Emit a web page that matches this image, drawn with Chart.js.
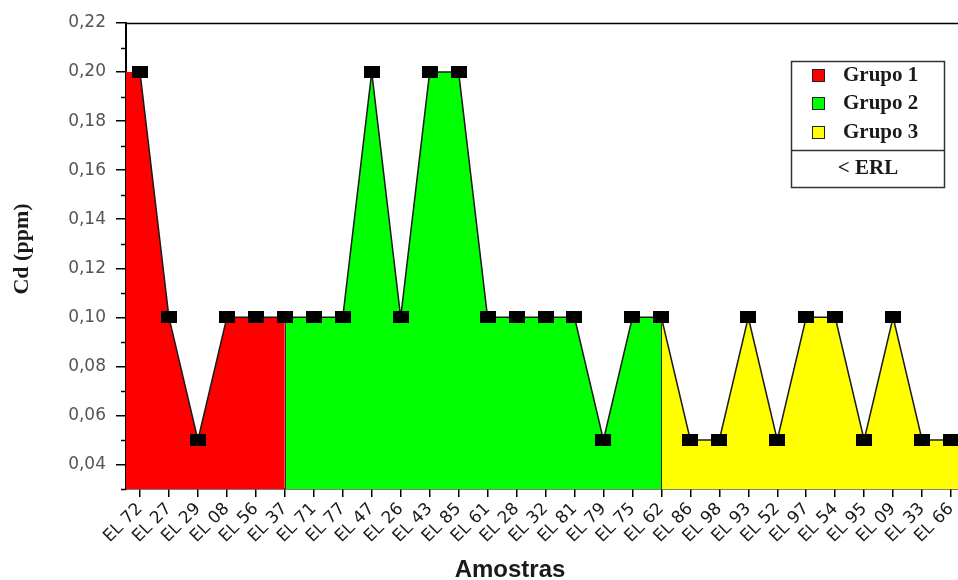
<!DOCTYPE html>
<html>
<head>
<meta charset="utf-8">
<script src="https://cdn.jsdelivr.net/npm/chart.js@4.4.1/dist/chart.umd.min.js"></script>
<style>
  html, body { margin: 0; padding: 0; background: #ffffff; overflow: hidden; }
  #wrap { position: relative; width: 958px; height: 580px; }
</style>
</head>
<body>
<div id="wrap"><canvas id="c" width="958" height="580"></canvas></div>
<script>
// ---- data ----
const samples = ['EL 72','EL 27','EL 29','EL 08','EL 56','EL 37','EL 71','EL 77','EL 47','EL 26',
                 'EL 43','EL 85','EL 61','EL 28','EL 32','EL 81','EL 79','EL 75','EL 62','EL 86',
                 'EL 98','EL 93','EL 52','EL 97','EL 54','EL 95','EL 09','EL 33','EL 66'];
const cdValues = [0.20,0.10,0.05,0.10,0.10,0.10,0.10,0.10,0.20,0.10,
                  0.20,0.20,0.10,0.10,0.10,0.10,0.05,0.10,0.10,0.05,
                  0.05,0.10,0.05,0.10,0.10,0.05,0.10,0.05,0.05];
const groupNames = ['Grupo 1','Grupo 2','Grupo 3'];
const groupStart = [0, 5, 18];
const groupEnd = [5, 18, 28];
const groupColors = ['#ff0000','#00ff00','#ffff00'];
const legendExtra = '< ERL';
const yTicks = [0.04,0.06,0.08,0.10,0.12,0.14,0.16,0.18,0.20,0.22];
const yTitle = 'Cd (ppm)';
const xTitle = 'Amostras';

// ---- scale bounds ----
const X_MIN = -0.483, X_MAX = 28.24, Y_MIN = 0.03, Y_MAX = 0.22;

const pts = cdValues.map((v, i) => ({ x: i, y: v }));

// marker
const mk = document.createElement('canvas');
mk.width = 16; mk.height = 12;
const mctx = mk.getContext('2d');
mctx.fillStyle = '#000'; mctx.fillRect(0, 0, 16, 12);

const fillSets = groupNames.map((g, gi) => {
  let d = pts.slice(groupStart[gi], groupEnd[gi] + 1);
  if (gi === 0) d = [{ x: X_MIN, y: cdValues[0] }].concat(d);
  if (gi === groupNames.length - 1) d = d.concat([{ x: X_MAX, y: cdValues[cdValues.length - 1] }]);
  return {
    label: g, data: d, fill: 'start', backgroundColor: groupColors[gi],
    borderWidth: 0, pointRadius: 0, tension: 0, order: 2
  };
});

const deco = {
  id: 'deco',
  afterDatasetsDraw(chart) {
    const { ctx, chartArea: a, scales: { x, y } } = chart;
    ctx.save();
    // group boundaries
    ctx.strokeStyle = '#3a2a1a'; ctx.lineWidth = 1;
    [groupEnd[0], groupEnd[1]].forEach(i => {
      const px = Math.round(x.getPixelForValue(i)) + 0.5;
      ctx.beginPath(); ctx.moveTo(px, a.bottom); ctx.lineTo(px, y.getPixelForValue(cdValues[i]) + 6); ctx.stroke();
    });
    ctx.restore();
  },
  afterDraw(chart) {
    const { ctx, chartArea: a, scales: { x, y } } = chart;
    ctx.save();
    // top frame line
    ctx.strokeStyle = '#000'; ctx.lineWidth = 1.5;
    ctx.beginPath(); ctx.moveTo(a.left, a.top + 0.5); ctx.lineTo(chart.width, a.top + 0.5); ctx.stroke();
    // minor y ticks
    ctx.lineWidth = 1.5;
    for (let k = 0; k < yTicks.length; k++) {
      const v = yTicks[k] - 0.01;
      const py = Math.round(y.getPixelForValue(v)) + 0.5;
      ctx.beginPath(); ctx.moveTo(a.left - 5, py); ctx.lineTo(a.left, py); ctx.stroke();
    }
    // y title
    ctx.fillStyle = '#1a1a1a';
    ctx.font = 'bold 22px "Liberation Serif", "Times New Roman", serif';
    ctx.textAlign = 'center'; ctx.textBaseline = 'middle';
    ctx.save(); ctx.translate(22, 249); ctx.rotate(-Math.PI / 2); ctx.fillText(yTitle, 0, 0); ctx.restore();
    // x title
    ctx.font = 'bold 24px "Liberation Sans", Arial, sans-serif';
    ctx.textBaseline = 'alphabetic';
    ctx.fillText(xTitle, 510, 577);
    // legend
    const L = 791, T = 61, R = 944, B = 187, sep = 150;
    ctx.fillStyle = '#fff'; ctx.fillRect(L, T, R - L, B - T);
    ctx.strokeStyle = '#333'; ctx.lineWidth = 1.5;
    ctx.strokeRect(L + 0.5, T + 0.5, R - L, B - T);
    ctx.beginPath(); ctx.moveTo(L, sep + 0.5); ctx.lineTo(R, sep + 0.5); ctx.stroke();
    const rows = [75, 103, 132];
    ctx.font = 'bold 21px "Liberation Serif", "Times New Roman", serif';
    ctx.textAlign = 'left'; ctx.textBaseline = 'middle';
    groupNames.forEach((g, i) => {
      ctx.fillStyle = groupColors[i];
      ctx.fillRect(812, rows[i] - 6, 13, 13);
      ctx.strokeStyle = '#222'; ctx.lineWidth = 1;
      ctx.strokeRect(812.5, rows[i] - 5.5, 12, 12);
      ctx.fillStyle = '#1a1a1a';
      ctx.fillText(g, 843, rows[i] + 1);
    });
    ctx.textAlign = 'center';
    ctx.fillText(legendExtra, 868, 169);
    ctx.restore();
  }
};

new Chart(document.getElementById('c'), {
  type: 'line',
  data: {
    datasets: [
      {
        label: 'Cd', data: pts, borderColor: '#1a1a1a', borderWidth: 1.5, tension: 0,
        pointStyle: mk, pointRadius: 8, fill: false, order: 0, clip: false
      }
    ].concat(fillSets)
  },
  options: {
    responsive: false,
    animation: false,
    events: [],
    layout: { autoPadding: false, padding: { top: 23, right: 0, left: 0, bottom: 0 } },
    plugins: { legend: { display: false }, tooltip: { enabled: false }, title: { display: false } },
    scales: {
      x: {
        type: 'linear', min: X_MIN, max: X_MAX,
        afterBuildTicks: s => { s.ticks = samples.map((_, i) => ({ value: i })); },
        afterFit: s => { s.height = 91; s.paddingLeft = 0; s.paddingRight = 0; },
        grid: { display: true, drawOnChartArea: false, drawTicks: true, tickLength: 8, color: '#000', lineWidth: 1.5 },
        border: { display: true, color: '#000', width: 1.5 },
        ticks: {
          autoSkip: false, minRotation: 45, maxRotation: 45, padding: 2,
          color: '#1a1a1a', font: { family: '"DejaVu Sans", sans-serif', size: 17 },
          callback: (v) => samples[Math.round(v)] ?? ''
        }
      },
      y: {
        type: 'linear', min: Y_MIN, max: Y_MAX,
        afterBuildTicks: s => { s.ticks = yTicks.map(v => ({ value: v })); },
        afterFit: s => { s.width = 126; s.paddingTop = 0; s.paddingBottom = 0; },
        grid: { display: true, drawOnChartArea: false, drawTicks: true, tickLength: 10, color: '#000', lineWidth: 1.5 },
        border: { display: true, color: '#000', width: 2 },
        ticks: {
          color: '#555', padding: 10,
          font: { family: '"DejaVu Sans", sans-serif', size: 17 },
          callback: v => v.toFixed(2).replace('.', ',')
        }
      }
    }
  },
  plugins: [deco]
});
</script>
</body>
</html>
